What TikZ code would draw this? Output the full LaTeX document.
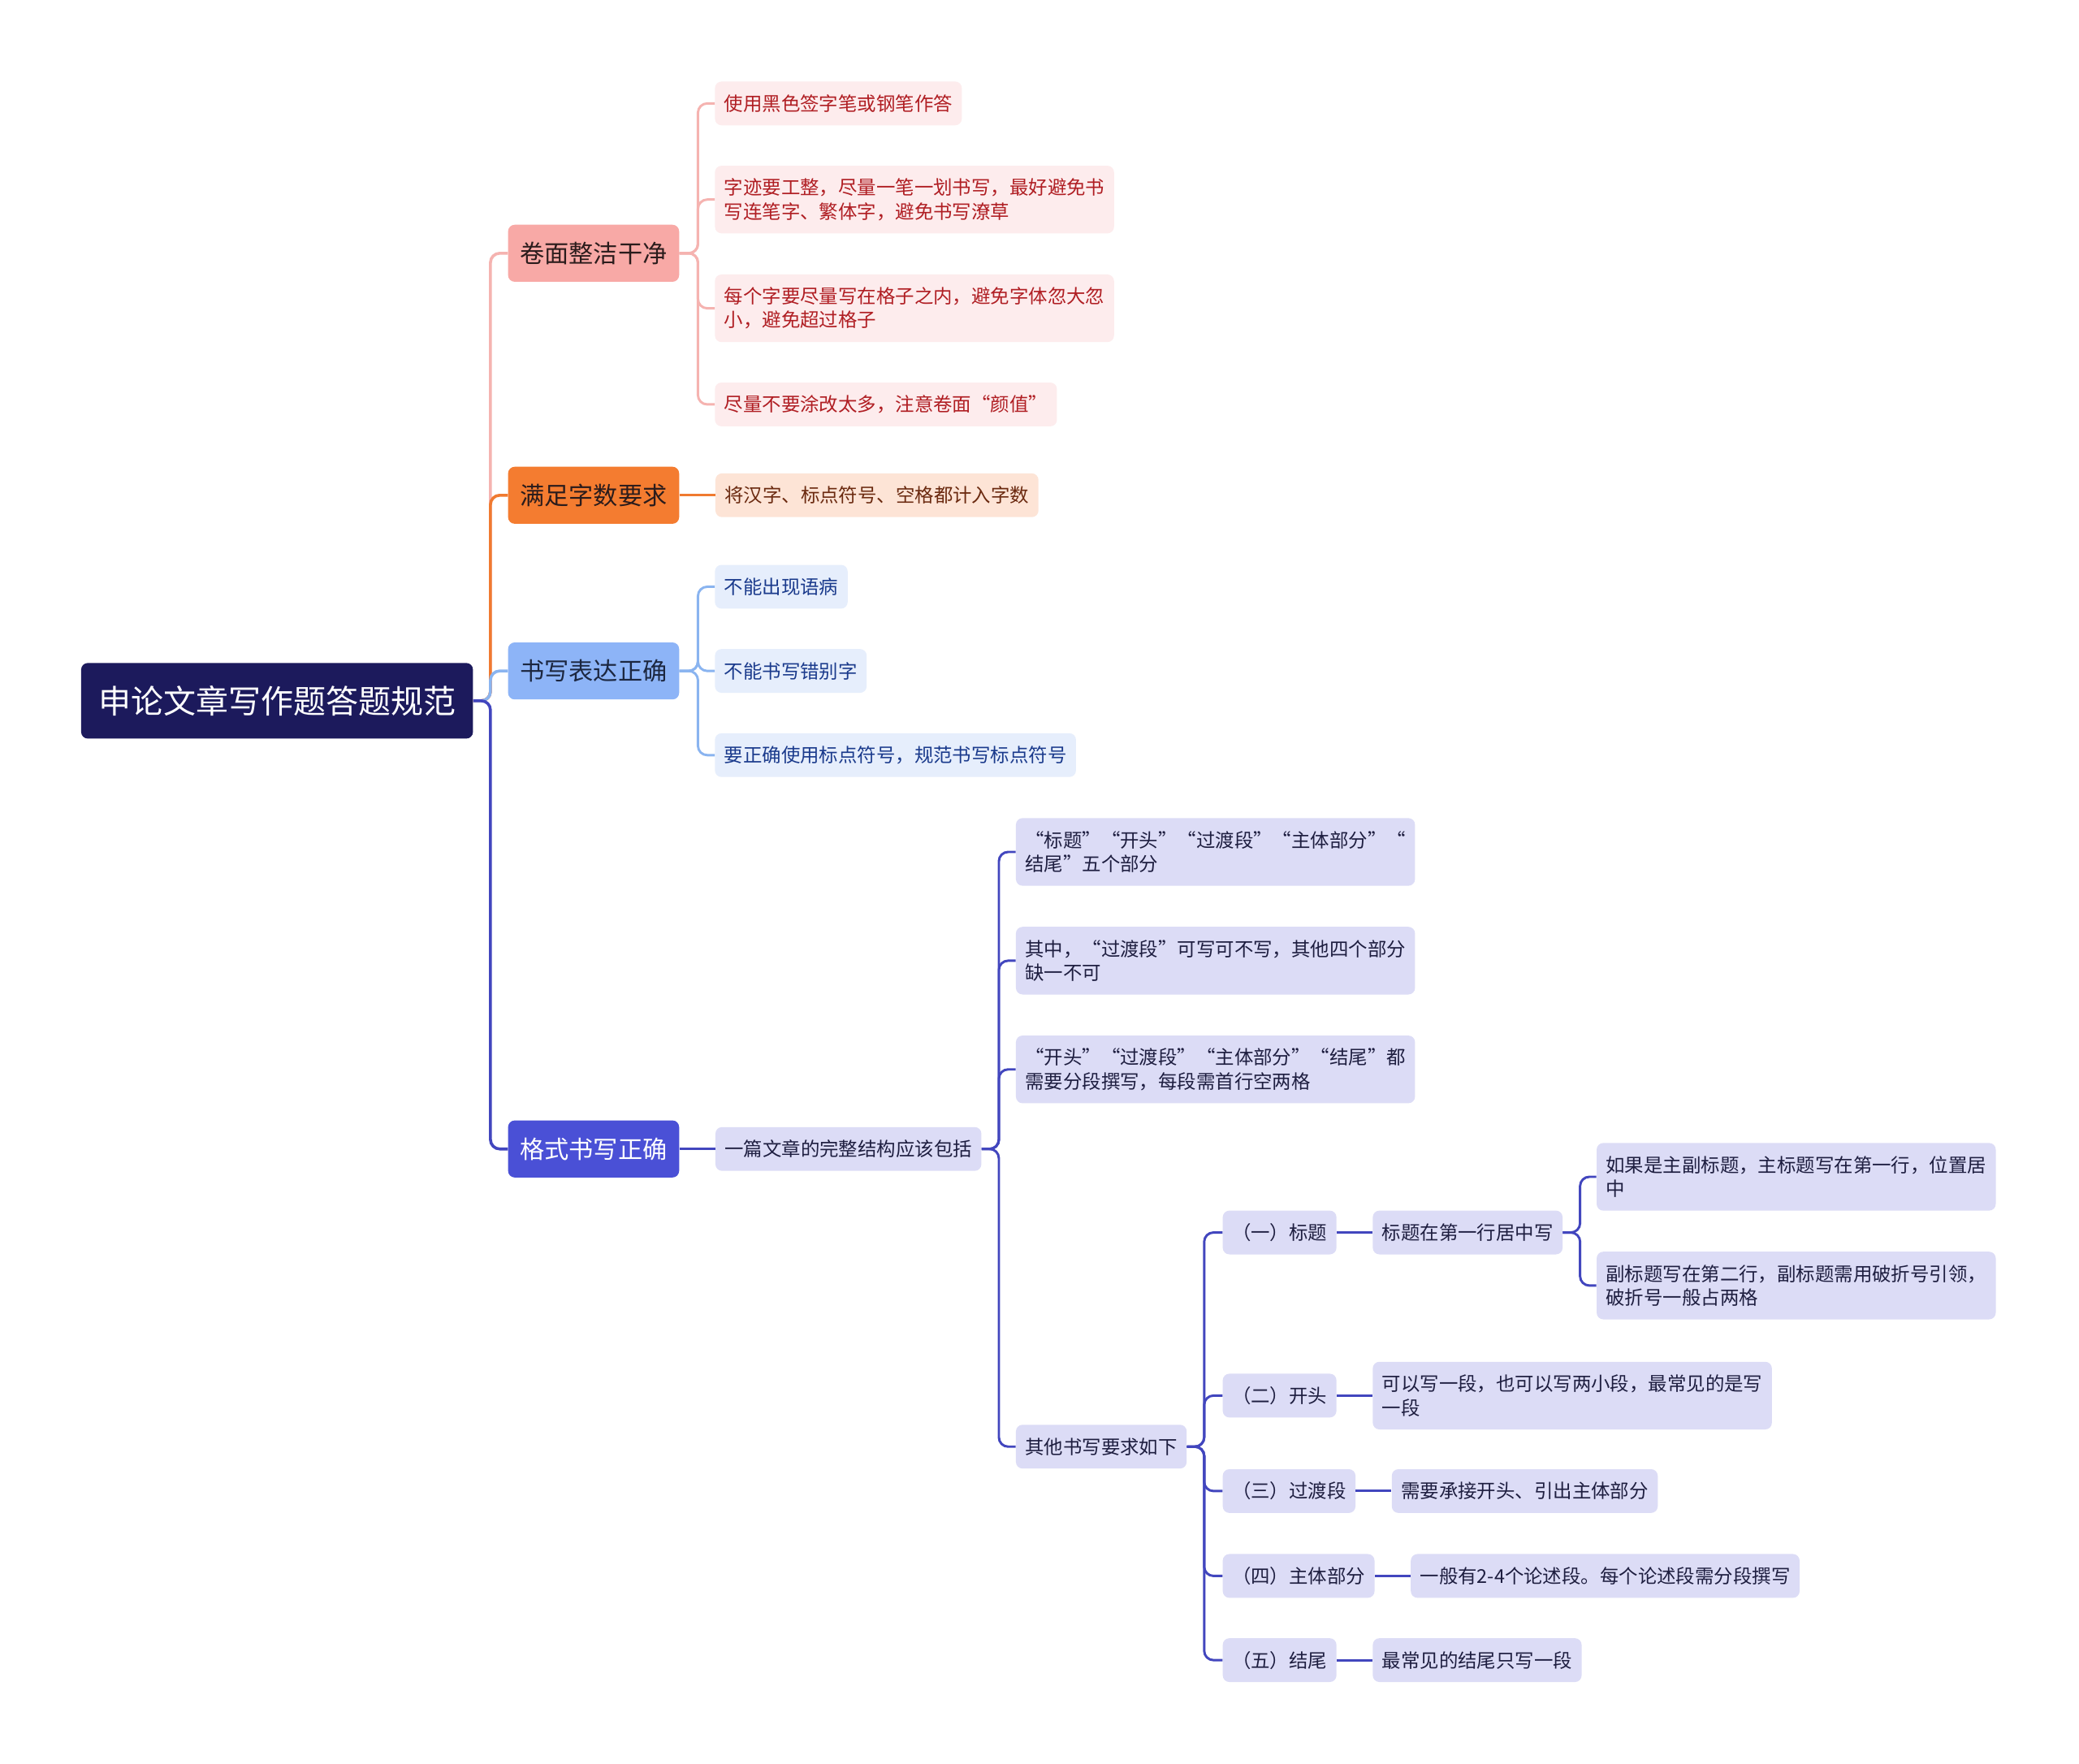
\documentclass[tikz,border=0pt]{standalone}
\usepackage{fontspec}
\setmainfont{Noto Sans CJK SC}
\usepackage{xcolor}
\definecolor{rootfill}{RGB}{28,26,92}
\definecolor{darktext}{RGB}{43,28,28}
\definecolor{pinkfill}{RGB}{248,169,166}
\definecolor{pinkleaf}{RGB}{253,236,237}
\definecolor{pinktext}{RGB}{176,30,35}
\definecolor{pinkline}{RGB}{245,179,176}
\definecolor{orangefill}{RGB}{244,124,48}
\definecolor{orangeleaf}{RGB}{253,228,214}
\definecolor{orangetext}{RGB}{107,42,16}
\definecolor{orangeline}{RGB}{240,122,48}
\definecolor{bluefill}{RGB}{141,180,247}
\definecolor{blueleaf}{RGB}{230,238,252}
\definecolor{bluetext}{RGB}{26,58,140}
\definecolor{bluedark}{RGB}{28,39,64}
\definecolor{blueline}{RGB}{138,180,240}
\definecolor{indigofill}{RGB}{74,80,214}
\definecolor{indigoleaf}{RGB}{220,220,246}
\definecolor{indigotext}{RGB}{30,30,64}
\definecolor{indigoline}{RGB}{66,70,190}
\tikzset{
  mbox/.style={rounded corners=5pt,anchor=west,inner xsep=7pt,inner ysep=3pt,align=left},
  mroot/.style={mbox,fill=rootfill,text=white,inner xsep=13pt,minimum height=57pt,
    font=\fontsize{24.5}{28}\selectfont},
  mmain/.style={mbox,inner xsep=9pt,minimum height=43pt,font=\fontsize{18.5}{22}\selectfont},
  mleaf/.style={mbox,minimum height=33pt,font=\fontsize{14.35}{18}\selectfont},
  tall/.style={minimum height=51pt},
  cleanleaf/.style={mleaf,fill=pinkleaf,text=pinktext},
  countleaf/.style={mleaf,fill=orangeleaf,text=orangetext},
  exprleaf/.style={mleaf,fill=blueleaf,text=bluetext},
  fmtleaf/.style={mleaf,fill=indigoleaf,text=indigotext},
  mlink/.style={line width=2.2pt,rounded corners=7pt},
  msub/.style={line width=1.8pt,rounded corners=7pt},
}
\begin{document}
\begin{tikzpicture}[x=1pt,y=-1pt]
  \useasboundingbox[fill=white] (0,0) rectangle (1568,1330);
  % root and main topics
  \node[mroot] (root) at (61,528.5) {申论文章写作题答题规范};
  \node[mmain,fill=pinkfill,text=darktext] (clean) at (383,191) {卷面整洁干净};
  \node[mmain,fill=orangefill,text=darktext] (count) at (383,373.5) {满足字数要求};
  \node[mmain,fill=bluefill,text=bluedark] (expr) at (383,506) {书写表达正确};
  \node[mmain,fill=indigofill,text=white] (fmt) at (383,866.5) {格式书写正确};
  \foreach \c/\col in {clean/pinkline,count/orangeline,expr/blueline,fmt/indigoline}
    \draw[mlink,\col] (root.east) -- ++(13,0) |- (\c.west);
  % 卷面整洁干净
  \node[cleanleaf] (clean1) at (539,78) {使用黑色签字笔或钢笔作答};
  \node[cleanleaf,tall] (clean2) at (539,150.5) {字迹要工整，尽量一笔一划书写，最好避免书\\写连笔字、繁体字，避免书写潦草};
  \node[cleanleaf,tall] (clean3) at (539,232.5) {每个字要尽量写在格子之内，避免字体忽大忽\\小，避免超过格子};
  \node[cleanleaf] (clean4) at (539,305) {尽量不要涂改太多，注意卷面“颜值”};
  \foreach \c in {clean1,clean2,clean3,clean4}
    \draw[msub,pinkline] (clean.east) -- ++(14,0) |- (\c.west);
  % 满足字数要求
  \node[countleaf] (count1) at ([xshift=27pt]count.east) {将汉字、标点符号、空格都计入字数};
  \draw[msub,orangeline] (count.east) -- (count1.west);
  % 书写表达正确
  \node[exprleaf] (expr1) at (539,442.5) {不能出现语病};
  \node[exprleaf] (expr2) at (539,506) {不能书写错别字};
  \node[exprleaf] (expr3) at (539,569.5) {要正确使用标点符号，规范书写标点符号};
  \foreach \c in {expr1,expr2,expr3}
    \draw[msub,blueline] (expr.east) -- ++(14,0) |- (\c.west);
  % 格式书写正确
  \node[fmtleaf] (fmt1) at ([xshift=27pt]fmt.east) {一篇文章的完整结构应该包括};
  \draw[msub,indigoline] (fmt.east) -- (fmt1.west);
  \node[fmtleaf,tall] (part1) at (766,642.5) {“标题”“开头”“过渡段”“主体部分”“\\结尾”五个部分};
  \node[fmtleaf,tall] (part2) at (766,724.5) {其中，“过渡段”可写可不写，其他四个部分\\缺一不可};
  \node[fmtleaf,tall] (part3) at (766,806.5) {“开头”“过渡段”“主体部分”“结尾”都\\需要分段撰写，每段需首行空两格};
  \node[fmtleaf] (other) at (766,1091) {其他书写要求如下};
  \foreach \c in {part1,part2,part3,other}
    \draw[msub,indigoline] (fmt1.east) -- ++(13,0) |- (\c.west);
  \node[fmtleaf] (title) at (922,929.5) {（一）标题};
  \node[fmtleaf] (open) at (922,1052.5) {（二）开头};
  \node[fmtleaf] (trans) at (922,1124.5) {（三）过渡段};
  \node[fmtleaf] (body) at (922,1188.5) {（四）主体部分};
  \node[fmtleaf] (close) at (922,1252) {（五）结尾};
  \foreach \c in {title,open,trans,body,close}
    \draw[msub,indigoline] (other.east) -- ++(13,0) |- (\c.west);
  \node[fmtleaf] (title1) at ([xshift=27pt]title.east) {标题在第一行居中写};
  \node[fmtleaf,tall] (open1) at ([xshift=27pt]open.east) {可以写一段，也可以写两小段，最常见的是写\\一段};
  \node[fmtleaf] (trans1) at ([xshift=27pt]trans.east) {需要承接开头、引出主体部分};
  \node[fmtleaf] (body1) at ([xshift=27pt]body.east) {一般有2-4个论述段。每个论述段需分段撰写};
  \node[fmtleaf] (close1) at ([xshift=27pt]close.east) {最常见的结尾只写一段};
  \foreach \c in {title,open,trans,body,close}
    \draw[msub,indigoline] (\c.east) -- (\c1.west);
  \node[fmtleaf,tall] (title2) at (1204,887.5) {如果是主副标题，主标题写在第一行，位置居\\中};
  \node[fmtleaf,tall] (title3) at (1204,969.5) {副标题写在第二行，副标题需用破折号引领，\\破折号一般占两格};
  \foreach \c in {title2,title3}
    \draw[msub,indigoline] (title1.east) -- ++(13,0) |- (\c.west);
\end{tikzpicture}
\end{document}
